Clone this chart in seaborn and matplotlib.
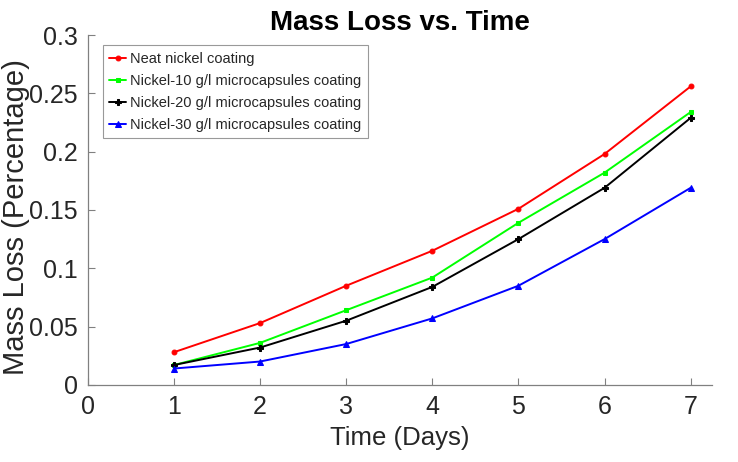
import matplotlib
matplotlib.use("Agg")
import matplotlib.pyplot as plt
import seaborn as sns
import pandas as pd

days = [1, 2, 3, 4, 5, 6, 7]
series_names = ["Neat nickel coating",
                "Nickel-10 g/l microcapsules coating",
                "Nickel-20 g/l microcapsules coating",
                "Nickel-30 g/l microcapsules coating"]
neat = [0.028, 0.053, 0.085, 0.115, 0.151, 0.198, 0.256]
ni10 = [0.017, 0.036, 0.064, 0.092, 0.139, 0.182, 0.234]
ni20 = [0.017, 0.032, 0.055, 0.084, 0.125, 0.169, 0.229]
ni30 = [0.014, 0.020, 0.035, 0.057, 0.085, 0.125, 0.169]
x_ticks = [0, 1, 2, 3, 4, 5, 6, 7]
y_ticks = [0, 0.05, 0.1, 0.15, 0.2, 0.25, 0.3]
y_tick_labels = ["0", "0.05", "0.1", "0.15", "0.2", "0.25", "0.3"]

rows = []
for name, vals in zip(series_names, [neat, ni10, ni20, ni30]):
    for d, v in zip(days, vals):
        rows.append({"Day": d, "Loss": v, "Series": name})
df = pd.DataFrame(rows)

sns.set_style("white")
plt.rcParams['font.family'] = ['Liberation Sans', 'DejaVu Sans']

fig = plt.figure(figsize=(7.38, 4.62), dpi=100)
ax = fig.add_axes([0.119, 0.167, 0.846, 0.757])

colors = ["#ff0000", "#00ff00", "#000000", "#0000ff"]
markers = {"Neat nickel coating": "o",
           "Nickel-10 g/l microcapsules coating": "s",
           "Nickel-20 g/l microcapsules coating": "P",
           "Nickel-30 g/l microcapsules coating": "^"}
sizes = {"Neat nickel coating": 3.5,
         "Nickel-10 g/l microcapsules coating": 3.2,
         "Nickel-20 g/l microcapsules coating": 4.5,
         "Nickel-30 g/l microcapsules coating": 4.5}

for name, c in zip(series_names, colors):
    sub = df[df["Series"] == name]
    sns.lineplot(data=sub, x="Day", y="Loss", ax=ax, color=c, lw=1.4,
                 marker=markers[name], markersize=sizes[name],
                 markeredgecolor=c, markerfacecolor=c, label=name)

ax.set_xlim(0, 7.25)
ax.set_ylim(0, 0.3)
ax.set_xticks(x_ticks)
ax.set_yticks(y_ticks)
ax.set_yticklabels(y_tick_labels)
ax.tick_params(axis='both', bottom=True, left=True, labelsize=18,
               labelcolor='#262626', direction='in', color='#808080',
               length=5, width=0.8, pad=7)
for s in ['top', 'right']:
    ax.spines[s].set_visible(False)
for s in ['left', 'bottom']:
    ax.spines[s].set_color('#808080')
    ax.spines[s].set_linewidth(0.9)

ax.set_xlabel("Time (Days)", fontsize=18.5, color='#262626', labelpad=5)
ax.set_ylabel("Mass Loss (Percentage)", fontsize=21, color='#262626')
ax.yaxis.set_label_coords(-0.092, 0.48)
ax.set_title("Mass Loss vs. Time", fontsize=20, fontweight='bold', pad=4,
             color='black')

leg = ax.legend(loc='upper left', bbox_to_anchor=(0.024, 0.971), fontsize=10.5,
                frameon=True, fancybox=False, handlelength=1.15,
                handletextpad=0.25, borderpad=0.45, labelspacing=0.55,
                borderaxespad=0.0)
leg.get_frame().set_edgecolor('#808080')
leg.get_frame().set_linewidth(0.8)

fig.savefig("out.png", dpi=100)
